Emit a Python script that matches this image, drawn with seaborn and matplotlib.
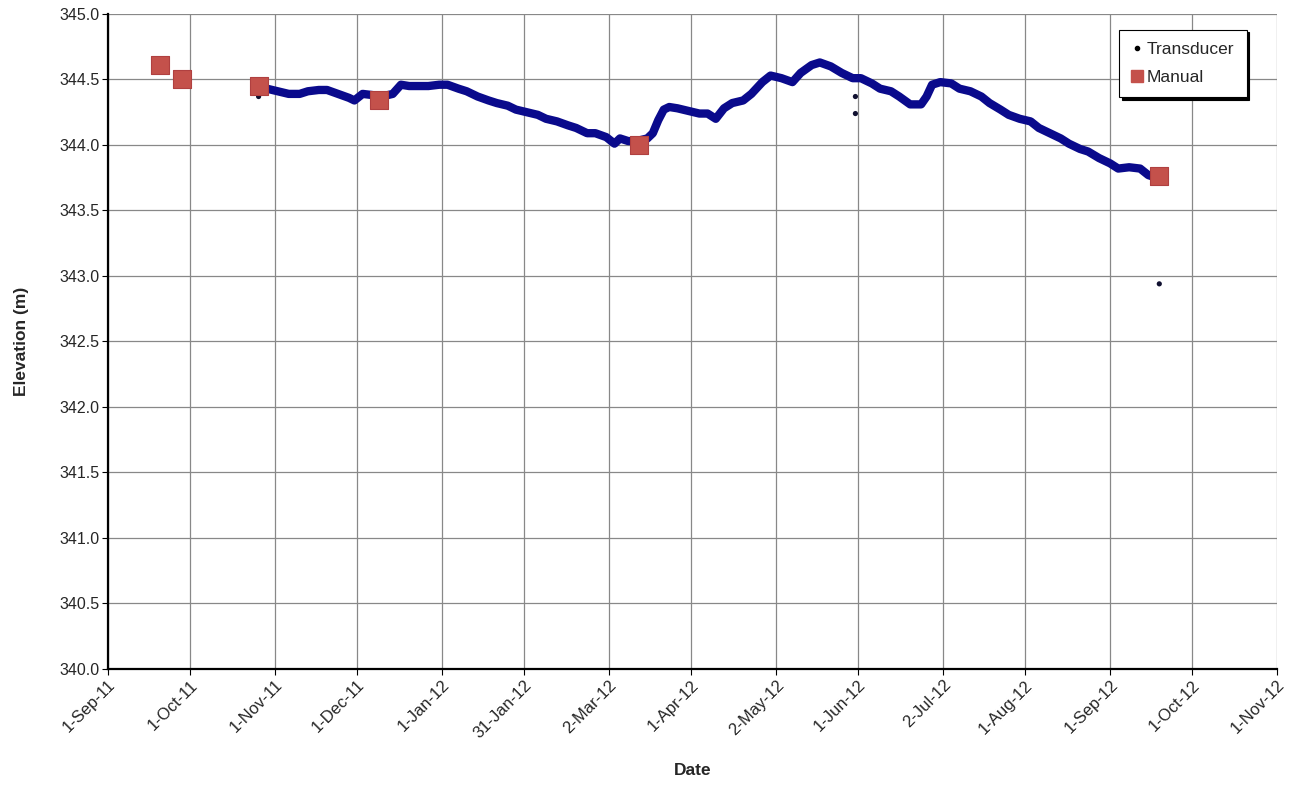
import pandas as pd
import numpy as np
import seaborn as sns
import matplotlib.pyplot as plt
from matplotlib.lines import Line2D

# Transducer record
trans_dates = ['2011-10-27', '2011-10-29', '2011-11-02', '2011-11-06', '2011-11-10', '2011-11-13',
               '2011-11-17', '2011-11-20', '2011-11-24', '2011-11-28', '2011-11-30', '2011-12-03',
               '2011-12-07', '2011-12-10', '2011-12-14', '2011-12-17', '2011-12-20', '2011-12-23',
               '2011-12-27', '2011-12-31', '2012-01-03', '2012-01-07', '2012-01-10', '2012-01-14',
               '2012-01-18', '2012-01-21', '2012-01-25', '2012-01-28', '2012-02-01', '2012-02-05',
               '2012-02-08', '2012-02-12', '2012-02-16', '2012-02-19', '2012-02-23', '2012-02-26',
               '2012-03-01', '2012-03-04', '2012-03-06', '2012-03-09', '2012-03-12', '2012-03-16',
               '2012-03-18', '2012-03-20', '2012-03-22', '2012-03-24', '2012-03-27', '2012-03-31',
               '2012-04-04', '2012-04-07', '2012-04-10', '2012-04-13', '2012-04-16', '2012-04-20',
               '2012-04-23', '2012-04-27', '2012-04-30', '2012-05-04', '2012-05-08', '2012-05-11',
               '2012-05-15', '2012-05-18', '2012-05-22', '2012-05-26', '2012-05-28', '2012-05-30',
               '2012-06-02', '2012-06-06', '2012-06-09', '2012-06-13', '2012-06-16', '2012-06-20',
               '2012-06-24', '2012-06-26', '2012-06-28', '2012-07-01', '2012-07-05', '2012-07-08',
               '2012-07-12', '2012-07-16', '2012-07-19', '2012-07-23', '2012-07-26', '2012-07-30',
               '2012-08-03', '2012-08-06', '2012-08-10', '2012-08-14', '2012-08-17', '2012-08-21',
               '2012-08-24', '2012-08-28', '2012-09-01', '2012-09-04', '2012-09-08', '2012-09-12',
               '2012-09-15', '2012-09-18']
trans_elev = [344.44, 344.43, 344.41, 344.39, 344.39, 344.41,
              344.42, 344.42, 344.39, 344.36, 344.34, 344.39,
              344.38, 344.37, 344.39, 344.46, 344.45, 344.45,
              344.45, 344.46, 344.46, 344.43, 344.41, 344.37,
              344.34, 344.32, 344.30, 344.27, 344.25, 344.23,
              344.20, 344.18, 344.15, 344.13, 344.09, 344.09,
              344.06, 344.01, 344.05, 344.03, 344.03, 344.05,
              344.09, 344.19, 344.27, 344.29, 344.28, 344.26,
              344.24, 344.24, 344.20, 344.28, 344.32, 344.34,
              344.39, 344.48, 344.53, 344.51, 344.48, 344.55,
              344.61, 344.63, 344.60, 344.55, 344.53, 344.51,
              344.51, 344.47, 344.43, 344.41, 344.37, 344.31,
              344.31, 344.37, 344.46, 344.48, 344.47, 344.43,
              344.41, 344.37, 344.32, 344.27, 344.23, 344.20,
              344.18, 344.13, 344.09, 344.05, 344.01, 343.97,
              343.95, 343.90, 343.86, 343.82, 343.83, 343.82,
              343.77, 343.75]

# stray transducer readings
spike_dates = ['2011-10-26', '2012-05-31', '2012-05-31', '2012-09-19']
spike_elev = [344.37, 344.37, 344.24, 342.94]

# manual measurements
manual_dates = ['2011-09-20', '2011-09-28', '2011-10-26', '2011-12-09', '2012-03-13', '2012-09-19']
manual_elev = [344.61, 344.50, 344.45, 344.34, 344.00, 343.76]

tick_labels = ['1-Sep-11', '1-Oct-11', '1-Nov-11', '1-Dec-11', '1-Jan-12', '31-Jan-12', '2-Mar-12',
               '1-Apr-12', '2-May-12', '1-Jun-12', '2-Jul-12', '1-Aug-12', '1-Sep-12', '1-Oct-12',
               '1-Nov-12']

trans = pd.DataFrame({'date': pd.to_datetime(trans_dates), 'elev': trans_elev})
spikes = pd.DataFrame({'date': pd.to_datetime(spike_dates), 'elev': spike_elev})
manual = pd.DataFrame({'date': pd.to_datetime(manual_dates), 'elev': manual_elev})
ticks = pd.to_datetime(tick_labels, format='%d-%b-%y')

sns.set_style('white')
plt.rcParams['font.family'] = ['Liberation Sans', 'DejaVu Sans']

fig = plt.figure(figsize=(12.89, 7.86), dpi=100)
ax = fig.add_axes([0.0838, 0.1489, 0.9069, 0.8333])

sns.lineplot(x='date', y='elev', data=trans, ax=ax, color='#0A0A8C', linewidth=6,
             solid_capstyle='round', zorder=3)
sns.scatterplot(x='date', y='elev', data=spikes, ax=ax, color='#101030', s=14,
                edgecolor='none', zorder=3)
sns.scatterplot(x='date', y='elev', data=manual, ax=ax, color='#C4514B', marker='s', s=150,
                edgecolor='#B04040', linewidth=0.8, zorder=4)

ax.set_xlim(ticks[0], ticks[-1])
ax.set_ylim(340, 345)
ax.set_xticks(ticks)
ax.set_xticklabels(tick_labels, rotation=45, ha='right', rotation_mode='anchor', fontsize=12)
ax.set_yticks(np.arange(340, 345.01, 0.5))
ax.set_yticklabels([f'{v:.1f}' for v in np.arange(340, 345.01, 0.5)], fontsize=11.5)
ax.grid(True, color='#888888', linewidth=0.9)
ax.tick_params(axis='both', length=4, direction='out', color='black', pad=2)
ax.tick_params(axis='x', bottom=True)
ax.tick_params(axis='y', left=True)

for s in ['top', 'right']:
    ax.spines[s].set_visible(False)
for s in ['left', 'bottom']:
    ax.spines[s].set_color('black')
    ax.spines[s].set_linewidth(1.6)

ax.set_xlabel('Date', fontsize=12.5, fontweight='bold', labelpad=16)
ax.set_ylabel('Elevation (m)', fontsize=12.5, fontweight='bold', labelpad=22)

handles = [Line2D([], [], marker='o', color='black', linestyle='none', markersize=3),
           Line2D([], [], marker='s', color='#C4514B', linestyle='none', markersize=8)]
leg = ax.legend(handles, ['Transducer', 'Manual'], loc='upper right',
                bbox_to_anchor=(0.974, 0.976), borderaxespad=0, fontsize=12.5, frameon=True,
                fancybox=False, shadow={'color': 'black', 'alpha': 1}, framealpha=1,
                edgecolor='black', handlelength=0.6, handletextpad=0.3, borderpad=0.7,
                labelspacing=0.75)
leg.get_frame().set_linewidth(0.8)

plt.savefig('out.png', dpi=100)
